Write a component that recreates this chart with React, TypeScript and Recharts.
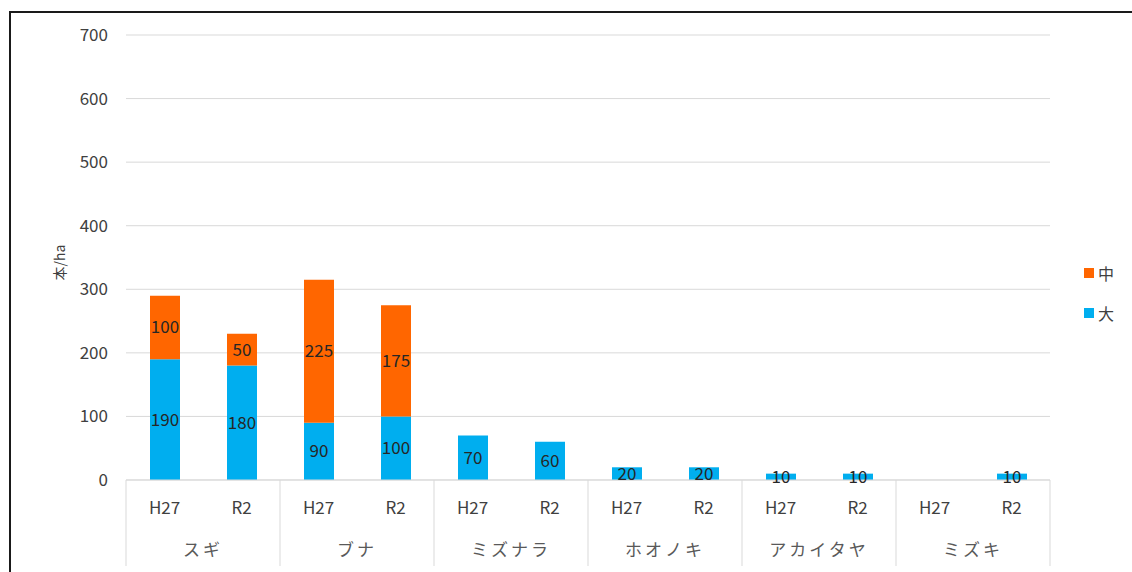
import React from 'react';
import {
  BarChart,
  Bar,
  XAxis,
  YAxis,
  CartesianGrid,
  Legend,
  LabelList,
  Label
} from 'recharts';

// tree species (outer axis level) and survey years (inner level)
const species = ['スギ', 'ブナ', 'ミズナラ', 'ホオノキ', 'アカイタヤ', 'ミズキ'];
const periods = ['H27', 'R2'];

// stems per hectare, one value per species/period pair
const large: (number | null)[] = [190, 180, 90, 100, 70, 60, 20, 20, 10, 10, null, 10];
const medium: (number | null)[] = [100, 50, 225, 175, null, null, null, null, null, null, null, null];

const yTicks = [0, 100, 200, 300, 400, 500, 600, 700];

const W = 1132;
const H = 572;
const PLOT_LEFT = 126;
const PLOT_RIGHT = 1050;
const FONT = "'Noto Sans CJK JP', 'Noto Sans', sans-serif";
const BLUE = '#00AEEF';
const ORANGE = '#FF6600';
const AXIS_GRAY = '#d9d9d9';

const chartData = species.flatMap((sp, i) =>
  periods.map((p, j) => ({
    key: `${sp}-${p}`,
    species: sp,
    period: p,
    large: large[i * periods.length + j],
    medium: medium[i * periods.length + j]
  }))
);

const slotWidth = (PLOT_RIGHT - PLOT_LEFT) / chartData.length;

// two-level category axis: year under each bar, species name under each pair
const GroupedTick = (props: any) => {
  const { x, y, index } = props;
  const row = chartData[index];
  if (!row) return null;
  const first = index % periods.length === 0;
  const last = index === chartData.length - 1;
  return (
    <g>
      <text
        x={x}
        y={y + 26}
        textAnchor="middle"
        dominantBaseline="central"
        fontFamily={FONT}
        fontSize={17}
        fill="#404040"
      >
        {row.period}
      </text>
      {first && (
        <>
          <line x1={x - slotWidth / 2} x2={x - slotWidth / 2} y1={y} y2={y + 86} stroke={AXIS_GRAY} />
          <text
            x={x + slotWidth / 2}
            y={y + 68}
            textAnchor="middle"
            dominantBaseline="central"
            fontFamily={FONT}
            fontSize={17}
            fill="#595959"
            letterSpacing={3}
          >
            {row.species}
          </text>
        </>
      )}
      {last && (
        <line x1={x + slotWidth / 2} x2={x + slotWidth / 2} y1={y} y2={y + 86} stroke={AXIS_GRAY} />
      )}
    </g>
  );
};

const LegendContent = (props: any) => {
  const items = props.payload || [];
  return (
    <div style={{ fontFamily: FONT, fontSize: 16, color: '#404040' }}>
      {items.map((item: any) => (
        <div key={item.value} style={{ display: 'flex', alignItems: 'center', height: 40 }}>
          <span style={{ width: 10, height: 10, background: item.color, marginRight: 4 }} />
          <span>{item.value}</span>
        </div>
      ))}
    </div>
  );
};

const showValue = (v: any) => (v == null || v === 0 ? '' : v);

export default function App() {
  return (
    <div
      style={{
        position: 'absolute',
        left: 0,
        top: 0,
        width: W,
        height: H,
        overflow: 'hidden',
        background: '#fff'
      }}
    >
      <div
        style={{
          position: 'absolute',
          left: 9,
          top: 11,
          width: W + 50,
          height: H + 50,
          border: '2px solid #1a1a1a'
        }}
      />
      <BarChart
        width={W}
        height={H}
        data={chartData}
        margin={{ top: 35, right: W - PLOT_RIGHT, bottom: 0, left: 0 }}
        style={{ position: 'absolute', left: 0, top: 0 }}
      >
        <CartesianGrid vertical={false} stroke={AXIS_GRAY} />
        <XAxis
          dataKey="key"
          height={92}
          interval={0}
          tickLine={false}
          tickSize={0}
          tickMargin={0}
          axisLine={{ stroke: AXIS_GRAY }}
          tick={<GroupedTick />}
        />
        <YAxis
          width={PLOT_LEFT}
          domain={[0, 700]}
          ticks={yTicks}
          interval={0}
          axisLine={false}
          tickLine={false}
          tickSize={0}
          tickMargin={18}
          tick={{ fontFamily: FONT, fontSize: 17, fill: '#404040' }}
        >
          <Label
            value="本/ha"
            angle={-90}
            position="insideLeft"
            offset={60}
            dy={5}
            style={{ fontFamily: FONT, fontSize: 14, fill: '#404040', textAnchor: 'middle' }}
          />
        </YAxis>
        <Legend
          layout="horizontal"
          align="center"
          verticalAlign="middle"
          content={<LegendContent />}
          wrapperStyle={{ left: 1084, top: 253, width: 40 }}
        />
        <Bar dataKey="large" name="大" stackId="a" fill={BLUE} barSize={30} isAnimationActive={false}>
          <LabelList
            dataKey="large"
            position="center"
            formatter={showValue}
            style={{ fontFamily: FONT, fontSize: 17, fill: '#262626' }}
          />
        </Bar>
        <Bar dataKey="medium" name="中" stackId="a" fill={ORANGE} barSize={30} isAnimationActive={false}>
          <LabelList
            dataKey="medium"
            position="center"
            formatter={showValue}
            style={{ fontFamily: FONT, fontSize: 17, fill: '#262626' }}
          />
        </Bar>
      </BarChart>
    </div>
  );
}
